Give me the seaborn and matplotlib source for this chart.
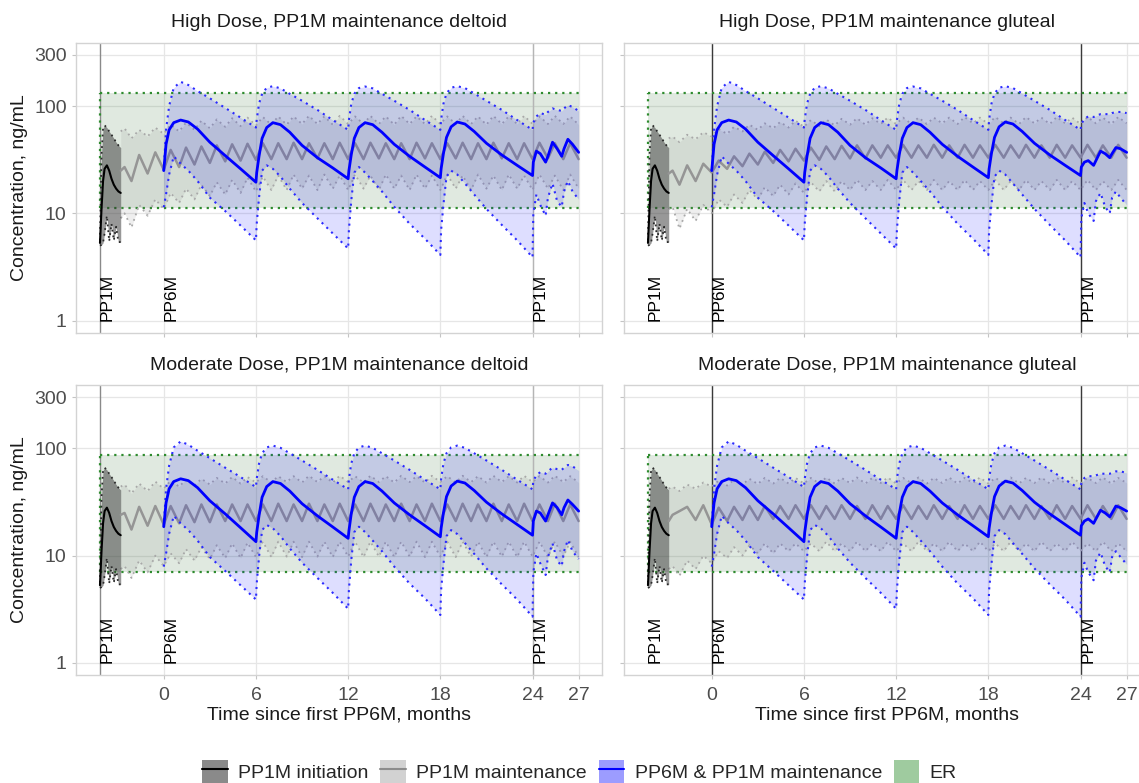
import matplotlib
matplotlib.use("Agg")
import matplotlib.pyplot as plt
import seaborn as sns
from matplotlib.patches import Patch
from matplotlib.lines import Line2D
from matplotlib.ticker import NullLocator

sns.set_theme(style="whitegrid")
plt.rcParams["font.family"] = ["Liberation Sans", "DejaVu Sans"]

# ---------------- data ----------------
TITLES = ["High Dose, PP1M maintenance deltoid", "High Dose, PP1M maintenance gluteal",
          "Moderate Dose, PP1M maintenance deltoid", "Moderate Dose, PP1M maintenance gluteal"]
X_TICKS = [0, 6, 12, 18, 24, 27]
Y_TICKS = [1, 10, 100, 300]
Y_LABELS = ["1", "10", "100", "300"]
LABEL_T = [-4.15, 0, 24]
LABEL_TXT = ["PP1M", "PP6M", "PP1M"]
LEGEND_LABELS = ["PP1M initiation", "PP1M maintenance", "PP6M & PP1M maintenance", "ER"]

# exposure-response band
ER_T = [-4.15, 27]
ER_HD = [11.1, 131]
ER_MD = [7.1, 87]

# PP1M initiation
T_INIT = [-4.15, -4.05, -3.95, -3.85, -3.7, -3.55, -3.4, -3.25, -3.1, -2.95, -2.8]
INIT_MED = [5.3, 11, 20, 26, 28, 25, 21, 18.5, 17, 16, 15.5]
INIT_HI = [5.6, 35, 62, 66, 63, 58, 54, 50, 46, 43, 41]
INIT_LO = [5.0, 5.1, 5.3, 6.5, 9.5, 5.5, 8.0, 5.6, 7.5, 5.4, 5.4]

# PP1M maintenance (grey)
T_GREY = [-2.8, -2.55, -2.1, -1.6, -1.05, -0.55, 0.0,
          0.45, 1, 1.45, 2, 2.45, 3, 3.45, 4, 4.45, 5, 5.45, 6,
          6.45, 7, 7.45, 8, 8.45, 9, 9.45, 10, 10.45, 11, 11.45, 12,
          12.45, 13, 13.45, 14, 14.45, 15, 15.45, 16, 16.45, 17, 17.45, 18,
          18.45, 19, 19.45, 20, 20.45, 21, 21.45, 22, 22.45, 23, 23.45, 24,
          24.45, 25, 25.45, 26, 26.45, 27]

GREY_MED_HD_DELT = [25, 27, 20, 35, 23.5, 37, 25.5,
                    39, 27, 41, 28.5, 42, 29.5, 43, 30.5, 44, 31, 44.5, 31.5,
                    45, 32, 45, 32, 45.5, 32, 45, 32.5, 45, 32, 45.5, 32,
                    45, 32, 45.5, 32.5, 45, 32, 45, 32, 45.5, 32.5, 45, 32,
                    45, 32.5, 45.5, 32, 45, 32, 45.5, 32.5, 45, 32, 45, 32,
                    45.5, 32.5, 45, 32, 45, 32]
GREY_HI_HD_DELT = [58, 62, 50, 60, 52, 63, 55,
                   67, 58, 70, 60, 73, 62, 75, 64, 77, 65, 78, 66,
                   79, 67, 80, 67, 80, 68, 81, 68, 80, 67, 81, 68,
                   80, 68, 81, 68, 80, 67, 81, 68, 80, 68, 81, 68,
                   80, 68, 81, 68, 80, 67, 81, 68, 80, 68, 81, 68,
                   80, 68, 81, 68, 80, 67]
GREY_LO_HD_DELT = [9, 10, 7.4, 12, 9.5, 13.5, 11,
                   15.5, 12.5, 17, 13.5, 18.5, 14.5, 19.5, 15, 20.5, 15.5, 21.5, 16,
                   22, 16.5, 22.5, 16.5, 23, 17, 22.5, 16.5, 23, 17, 22.5, 16.5,
                   23, 17, 22.5, 16.5, 23, 17, 22.5, 16.5, 23, 17, 22.5, 16.5,
                   23, 17, 22.5, 16.5, 23, 17, 22.5, 16.5, 23, 17, 22.5, 16.5,
                   23, 17, 22.5, 16.5, 23, 17]

GREY_MED_HD_GLUT = [23.5, 25, 18.5, 28, 20, 29, 24,
                    31, 26, 34, 27.5, 36, 28.5, 37.5, 29.5, 39, 30.5, 40, 31,
                    41, 31.5, 42, 32, 42.5, 32.5, 43, 32.5, 43, 33, 43, 33,
                    43.5, 33, 43, 33, 43.5, 33, 43, 33, 43.5, 33, 43, 33,
                    43.5, 33, 43, 33, 43.5, 33, 43, 33, 43.5, 33, 43, 33,
                    43.5, 33, 43, 33, 43.5, 33]
GREY_HI_HD_GLUT = [50, 52, 46, 54, 49, 57, 52,
                   61, 55, 64, 58, 67, 60, 69, 62, 71, 63, 73, 64,
                   74, 65, 75, 66, 76, 67, 77, 67, 77, 68, 78, 68,
                   78, 68, 78, 68, 78, 69, 78, 68, 79, 69, 78, 68,
                   79, 69, 78, 68, 79, 69, 78, 68, 79, 69, 78, 68,
                   79, 69, 78, 68, 79, 69]
GREY_LO_HD_GLUT = [11, 11.5, 7.2, 11, 8.5, 12, 10,
                   13.5, 11.5, 15, 12.5, 16.5, 13.5, 17.5, 14.5, 18.5, 15, 19, 15.5,
                   19.5, 16, 20, 16, 20, 16.5, 20.5, 16.5, 20, 16.5, 20.5, 16.5,
                   20.5, 16.5, 20, 16.5, 20.5, 16.5, 20, 16.5, 20.5, 16.5, 20, 16.5,
                   20.5, 16.5, 20, 16.5, 20.5, 16.5, 20, 16.5, 20.5, 16.5, 20, 16.5,
                   20.5, 16.5, 20, 16.5, 20.5, 16.5]

GREY_MED_MD_DELT = [24, 25, 17.5, 28.5, 19, 29, 19.5,
                    29, 20, 29.5, 20.5, 30, 20.5, 30, 21, 30, 21, 30, 21,
                    30, 21, 30.5, 21, 30, 21, 30.5, 21, 30, 21, 30.5, 21,
                    30, 21, 30.5, 21, 30, 21, 30.5, 21, 30, 21, 30.5, 21,
                    30, 21, 30.5, 21, 30, 21, 30.5, 21, 30, 21, 30.5, 21,
                    30, 21, 30.5, 21, 30, 21]
GREY_HI_MD_DELT = [44, 46, 38, 47, 40, 49, 42,
                   50, 44, 51, 45, 52, 46, 53, 47, 54, 47, 54, 48,
                   55, 48, 55, 48.5, 55, 48, 55.5, 48.5, 55, 48, 55.5, 48.5,
                   55, 48, 55.5, 48.5, 55, 48, 55.5, 48.5, 55, 48, 55.5, 48.5,
                   55, 48, 55.5, 48.5, 55, 48, 55.5, 48.5, 55, 48, 55.5, 48.5,
                   55, 48, 55.5, 48.5, 55, 48]
GREY_LO_MD_DELT = [7.5, 8, 6.2, 9, 7, 10, 8,
                   10.5, 8.5, 11.5, 9, 12, 9.3, 12.5, 9.5, 13, 9.5, 13.2, 9.7,
                   13.5, 9.7, 13.5, 9.8, 13.5, 9.7, 13.5, 9.8, 13.5, 9.7, 13.5, 9.8,
                   13.5, 9.7, 13.5, 9.8, 13.5, 9.7, 13.5, 9.8, 13.5, 9.7, 13.5, 9.8,
                   13.5, 9.7, 13.5, 9.8, 13.5, 9.7, 13.5, 9.8, 13.5, 9.7, 13.5, 9.8,
                   13.5, 9.7, 13.5, 9.8, 13.5, 9.7]

GREY_MED_MD_GLUT = [21, 24, 26, 28.5, 21.5, 29.5, 19.5,
                    28, 21, 28.5, 21.5, 29, 21.5, 29, 22, 29, 22, 29.5, 22,
                    29.5, 22, 29, 22, 29.5, 22, 29, 22, 29.5, 22, 29, 22,
                    29.5, 22, 29, 22, 29.5, 22, 29, 22, 29.5, 22, 29, 22,
                    29.5, 22, 29, 22, 29.5, 22, 29, 22, 29.5, 22, 29, 22,
                    29.5, 22, 29, 22, 29.5, 22]
GREY_HI_MD_GLUT = [42, 44, 40, 46, 42, 48, 44,
                   50, 45, 51, 46, 52, 46.5, 53, 47, 53, 47, 53, 47,
                   53, 47, 53.5, 47, 53, 47.5, 53.5, 47, 53, 47.5, 53.5, 47,
                   53, 47.5, 53.5, 47, 53, 47.5, 53.5, 47, 53, 47.5, 53.5, 47,
                   53, 47.5, 53.5, 47, 53, 47.5, 53.5, 47, 53, 47.5, 53.5, 47,
                   53, 47.5, 53.5, 47, 53, 47.5]
GREY_LO_MD_GLUT = [7.5, 8, 6.5, 9, 7.5, 10, 8.5,
                   11, 9.5, 12, 10, 12.5, 10.5, 13, 10.5, 13, 11, 13, 11,
                   13, 11, 13.5, 11, 13, 11, 13.5, 11, 13, 11, 13.5, 11,
                   13, 11, 13.5, 11, 13, 11, 13.5, 11, 13, 11, 13.5, 11,
                   13, 11, 13.5, 11, 13, 11, 13.5, 11, 13, 11, 13.5, 11,
                   13, 11, 13.5, 11, 13, 11]

# PP6M & PP1M maintenance (blue): 0-24 months (four PP6M cycles), then PP1M 24-27
T_BLUE_PP6M = [0, 0.15, 0.35, 0.65, 1.1, 1.6, 2.2, 3, 4, 5, 6,
               6.05, 6.2, 6.4, 6.7, 7.1, 7.6, 8.2, 9, 10, 11, 12,
               12.05, 12.2, 12.4, 12.7, 13.1, 13.6, 14.2, 15, 16, 17, 18,
               18.05, 18.2, 18.4, 18.7, 19.1, 19.6, 20.2, 21, 22, 23, 24]
T_BLUE_POST = [24.05, 24.25, 24.5, 24.85, 25.0, 25.3, 25.6, 25.9, 26.05, 26.3, 26.6, 27]

BLUE_MED_HD = [25, 44, 60, 70, 74, 71, 61, 46, 34.5, 26, 19.5,
               24, 34, 50, 63, 70, 67, 57, 43, 33, 26.5, 21,
               25, 35, 50, 63, 70, 67, 57, 44, 34, 27, 21.5,
               26, 36, 51, 64, 71, 68, 58, 45, 35, 28, 22.5]
BLUE_HI_HD = [25, 60, 100, 148, 168, 157, 138, 118, 96, 78, 63,
              75, 105, 130, 148, 153, 146, 130, 112, 92, 74, 60,
              74, 104, 130, 147, 152, 146, 130, 112, 92, 74, 60,
              75, 105, 131, 148, 153, 147, 131, 112, 92, 74, 60]
BLUE_LO_HD = [11.4, 15, 23, 34, 29, 25, 20, 14, 10.5, 7.7, 5.6,
              8, 14, 25, 28, 26, 22, 17, 12.5, 9, 6.5, 4.7,
              7, 13, 24, 27, 24, 20, 16, 11.5, 8, 5.8, 4.1,
              7, 12, 22, 25, 23, 19, 15, 11, 7.8, 5.6, 3.9]
BLUE_MED_MD = [18.6, 31, 42, 49, 52, 50, 43, 32.5, 24.5, 18.2, 13.5,
               16.5, 23.5, 35, 44, 49, 47, 40, 30.5, 23.5, 18.5, 14.5,
               17, 24.5, 35, 44, 49, 47, 40, 31, 24, 19, 15,
               18, 25, 35.5, 44.5, 49.5, 47.5, 40.5, 31.5, 24.5, 19.5, 15.5]
BLUE_HI_MD = [18.6, 42, 69, 102, 116, 108, 95, 81, 66, 54, 43.5,
              52, 72, 90, 102, 106, 101, 90, 77, 63, 51, 41.5,
              52, 72, 90, 102, 106, 101, 90, 77, 63, 51, 41.5,
              52, 72, 90, 102, 106, 101, 90, 77, 63, 51, 41.5]
BLUE_LO_MD = [7.9, 10.4, 16, 23.5, 20, 17.3, 13.8, 9.7, 7.2, 5.3, 3.9,
              5.5, 9.7, 17.3, 19.3, 18, 15.2, 11.7, 8.6, 6.2, 4.5, 3.2,
              4.8, 9, 16.6, 18.6, 16.6, 13.8, 11, 7.9, 5.5, 4, 2.8,
              4.8, 8.3, 15.2, 17.3, 15.9, 13.1, 10.4, 7.6, 5.4, 3.9, 2.7]

POST_MED_HD_DELT = [30, 38, 36, 30, 34, 46, 40, 34, 40, 49, 44, 37]
POST_HI_HD_DELT = [70, 80, 86, 83, 88, 95, 92, 90, 95, 102, 98, 90]
POST_LO_HD_DELT = [10, 15, 12, 9.5, 14, 19, 13, 11.5, 16, 20, 16, 13.5]
POST_MED_HD_GLUT = [27, 30, 31, 28, 31, 38, 36, 33, 36, 41, 40, 37]
POST_HI_HD_GLUT = [68, 76, 80, 79, 81, 84, 84, 84, 86, 88, 88, 86]
POST_LO_HD_GLUT = [9, 12.5, 10, 8.5, 13, 15.5, 11.5, 10, 14, 16, 14, 12]
POST_MED_MD_DELT = [21, 26, 25, 21, 24, 31, 28, 24, 28, 33, 30, 26]
POST_HI_MD_DELT = [50, 56, 60, 58, 61, 66, 64, 63, 66, 70, 68, 62]
POST_LO_MD_DELT = [7, 10.5, 8.5, 6.6, 9.7, 13, 9, 8, 11, 14, 11, 9.3]
POST_MED_MD_GLUT = [19, 21, 22, 20, 22, 26.5, 25, 23, 25, 29, 28, 26]
POST_HI_MD_GLUT = [47, 53, 55, 55, 56, 58, 58, 58, 59, 61, 61, 59]
POST_LO_MD_GLUT = [6.2, 8.6, 7, 5.9, 9, 10.7, 8, 7, 9.7, 11, 9.7, 8.3]

# ---------------- assemble panels ----------------
PANELS = [
    dict(title=TITLES[0], row=0, col=0, er=ER_HD, site="deltoid",
         g=(GREY_MED_HD_DELT, GREY_LO_HD_DELT, GREY_HI_HD_DELT),
         b=(BLUE_MED_HD + POST_MED_HD_DELT, BLUE_LO_HD + POST_LO_HD_DELT, BLUE_HI_HD + POST_HI_HD_DELT)),
    dict(title=TITLES[1], row=0, col=1, er=ER_HD, site="gluteal",
         g=(GREY_MED_HD_GLUT, GREY_LO_HD_GLUT, GREY_HI_HD_GLUT),
         b=(BLUE_MED_HD + POST_MED_HD_GLUT, BLUE_LO_HD + POST_LO_HD_GLUT, BLUE_HI_HD + POST_HI_HD_GLUT)),
    dict(title=TITLES[2], row=1, col=0, er=ER_MD, site="deltoid",
         g=(GREY_MED_MD_DELT, GREY_LO_MD_DELT, GREY_HI_MD_DELT),
         b=(BLUE_MED_MD + POST_MED_MD_DELT, BLUE_LO_MD + POST_LO_MD_DELT, BLUE_HI_MD + POST_HI_MD_DELT)),
    dict(title=TITLES[3], row=1, col=1, er=ER_MD, site="gluteal",
         g=(GREY_MED_MD_GLUT, GREY_LO_MD_GLUT, GREY_HI_MD_GLUT),
         b=(BLUE_MED_MD + POST_MED_MD_GLUT, BLUE_LO_MD + POST_LO_MD_GLUT, BLUE_HI_MD + POST_HI_MD_GLUT)),
]
T_BLUE = T_BLUE_PP6M + T_BLUE_POST

# ---------------- figure ----------------
W, H = 1139, 783
fig = plt.figure(figsize=(W / 100, H / 100), dpi=100)
PW, PH = 525.7, 290.0
LEFTS = [76, 624]
TOPS = [42.7, 385.0]
DOT = (0, (1, 2.2))

for p in PANELS:
    left, top = LEFTS[p["col"]], TOPS[p["row"]]
    ax = fig.add_axes([left / W, 1 - (top + PH) / H, PW / W, PH / H])
    ax.set_facecolor("white")
    ax.set_yscale("log")
    ax.set_xlim(-5.71, 28.5)
    ax.set_ylim(10 ** -0.112, 10 ** 2.59)
    ax.set_axisbelow(True)

    # ER band
    lo, hi = p["er"]
    ax.fill_between(ER_T, [lo, lo], [hi, hi], color="#2f6f2f", alpha=0.15, lw=0, zorder=1)
    ax.plot(ER_T, [hi, hi], color="#2e8b2e", ls=DOT, lw=1.6, zorder=2)
    ax.plot(ER_T, [lo, lo], color="#2e8b2e", ls=DOT, lw=1.6, zorder=2)
    ax.plot([ER_T[0], ER_T[0]], [lo, hi], color="#2e8b2e", ls=DOT, lw=1.6, zorder=2)

    # dose reference lines
    if p["site"] == "deltoid":
        ax.axvline(LABEL_T[0], color="#8a8a8a", lw=1.0, zorder=1.5)
        ax.axvline(LABEL_T[2], color="#b5b5b5", lw=1.0, zorder=1.5)
    else:
        ax.axvline(LABEL_T[1], color="#3a3a3a", lw=1.0, zorder=1.5)
        ax.axvline(LABEL_T[2], color="#3a3a3a", lw=1.0, zorder=1.5)

    # PP1M maintenance (grey)
    gmed, glo, ghi = p["g"]
    ax.fill_between(T_GREY, glo, ghi, color="#7a7a7a", alpha=0.12, lw=0, zorder=2)
    ax.plot(T_GREY, ghi, color="#a8a8a8", ls=DOT, lw=1.3, zorder=3)
    ax.plot(T_GREY, glo, color="#a8a8a8", ls=DOT, lw=1.3, zorder=3)
    sns.lineplot(x=T_GREY, y=gmed, ax=ax, color="#959595", linewidth=1.8,
                 estimator=None, sort=False, legend=False, zorder=4)

    # PP1M initiation
    ax.fill_between(T_INIT, INIT_LO, INIT_HI, color="#333333", alpha=0.5, lw=0, zorder=3)
    ax.plot(T_INIT, INIT_HI, color="#2a2a2a", ls=DOT, lw=1.3, zorder=3.5)
    ax.plot(T_INIT, INIT_LO, color="#2a2a2a", ls=DOT, lw=1.3, zorder=3.5)
    sns.lineplot(x=T_INIT, y=INIT_MED, ax=ax, color="black", linewidth=1.5,
                 estimator=None, sort=False, legend=False, zorder=4)

    # PP6M & PP1M maintenance (blue)
    bmed, blo, bhi = p["b"]
    ax.fill_between(T_BLUE, blo, bhi, color="#0000ff", alpha=0.13, lw=0, zorder=5)
    ax.plot(T_BLUE, bhi, color="#2b2bff", ls=DOT, lw=1.5, zorder=6)
    ax.plot(T_BLUE, blo, color="#2b2bff", ls=DOT, lw=1.5, zorder=6)
    sns.lineplot(x=T_BLUE, y=bmed, ax=ax, color="#0000ff", linewidth=2.0,
                 estimator=None, sort=False, legend=False, zorder=7)

    # dose labels
    for x, lab in zip(LABEL_T, LABEL_TXT):
        ax.text(x, 1.0, lab, rotation=90, ha="left", va="bottom", fontsize=12.5,
                color="black", zorder=8)

    # axes styling
    ax.set_xticks(X_TICKS)
    ax.set_yticks(Y_TICKS)
    ax.set_yticklabels(Y_LABELS)
    ax.yaxis.set_minor_locator(NullLocator())
    ax.xaxis.set_minor_locator(NullLocator())
    ax.grid(True, which="major", color="#e6e6e6", lw=0.9)
    ax.tick_params(bottom=True, left=True, length=2.9, width=0.8, color="#c4c4c4",
                   labelsize=14, labelcolor="#4d4d4d")
    ax.tick_params(axis="x", pad=5.5)
    ax.tick_params(axis="y", pad=3.8)
    if p["row"] == 0:
        ax.tick_params(labelbottom=False)
    if p["col"] == 1:
        ax.tick_params(labelleft=False)
    for s in ax.spines.values():
        s.set_color("#d3d3d3")
        s.set_linewidth(1.0)
    ax.set_xlabel("")
    ax.set_ylabel("")
    ax.text(0.5, 1 + 20 / PH, p["title"], transform=ax.transAxes, ha="center",
            va="center", fontsize=14, color="#1a1a1a")

    if p["col"] == 0:
        fig.text(20 / W, 1 - (top + PH / 2) / H, "Concentration, ng/mL", rotation=90,
                 ha="center", va="center", fontsize=14, color="#1a1a1a")
    if p["row"] == 1:
        fig.text((left + PW / 2) / W, 1 - 715 / H, "Time since first PP6M, months",
                 ha="center", va="center", fontsize=14, color="#1a1a1a")

handles = [
    (Patch(facecolor="#8a8a8a", edgecolor="none"), Line2D([], [], color="black", lw=1.5)),
    (Patch(facecolor="#d2d2d2", edgecolor="none"), Line2D([], [], color="#8c8c8c", lw=1.5)),
    (Patch(facecolor="#9c9cff", edgecolor="none"), Line2D([], [], color="#0000ff", lw=1.5)),
    Patch(facecolor="#9fcb9f", edgecolor="none"),
]
fig.legend(handles, LEGEND_LABELS, loc="center", bbox_to_anchor=(0.5088, 1 - 772 / H),
           ncol=4, frameon=False, fontsize=14, handlelength=1.3, handleheight=1.45,
           handletextpad=0.55, columnspacing=0.6, borderpad=0, borderaxespad=0)

fig.savefig("out.png", dpi=100)
